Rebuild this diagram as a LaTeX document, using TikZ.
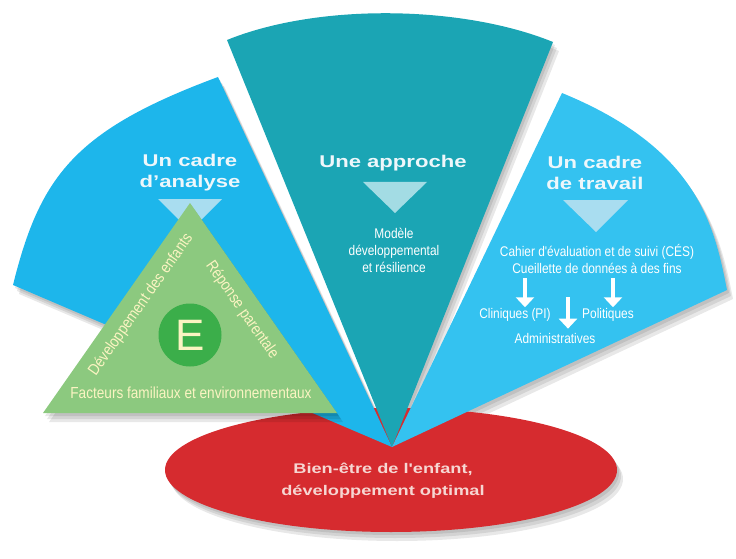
\documentclass[tikz,border=0pt]{standalone}
\usepackage{fontspec}
\setmainfont{Liberation Sans}
\newfontfamily\widefont[FakeStretch=1.3]{Liberation Sans}
\newfontfamily\narrowfont[FakeStretch=0.85]{Liberation Sans}
\usetikzlibrary{arrows.meta}

\definecolor{leftblue}{HTML}{1DB6EB}
\definecolor{rightblue}{HTML}{34C2F0}
\definecolor{tealwedge}{HTML}{1BA5B4}
\definecolor{redbase}{HTML}{D62B2F}
\definecolor{greentri}{HTML}{8CC97F}
\definecolor{egreen}{HTML}{3BAE4A}
\definecolor{paleblue}{HTML}{A9DDF0}
\definecolor{paleteal}{HTML}{A3DCE4}
\definecolor{cream}{HTML}{FBF4C2}
\definecolor{titlewhite}{HTML}{EEF7FB}
\definecolor{pinkwhite}{HTML}{F6D6D2}

% outlines of the three fan pieces, apex at (392,111)
\newcommand{\leftwedge}{(392,111) -- (13,273) .. controls (40,382) and (75,428) .. (218,481) -- cycle}
\newcommand{\midwedge}{(392,111) -- (227,518) .. controls (318,555) and (462,553) .. (553,516) -- cycle}
\newcommand{\rightwedge}{(392,111) -- (562,465) .. controls (696,410) and (714,335) .. (727,268) -- cycle}
\newcommand{\basepath}{(391,88) ellipse (226 and 62)}
\newcommand{\tripath}{(190,355) -- (43,145) -- (337,145) -- cycle}

\begin{document}
\begin{tikzpicture}[x=1pt,y=1pt,
    shadowfill/.style={fill=black,opacity=0.09},
    title/.style={text=titlewhite,font=\widefont\bfseries\fontsize{17}{21}\selectfont,align=center},
    smalltxt/.style={text=white,font=\narrowfont\fontsize{14}{17}\selectfont,align=center,inner sep=1pt},
    tritxt/.style={text=cream,font=\narrowfont\fontsize{16}{19}\selectfont,inner sep=1pt},
    blockarrow/.style={white,line width=4pt,-{Triangle[width=18pt,length=10pt]}}]
    \useasboundingbox (0,0) rectangle (736,558);
    % soft shadows
    \foreach \s in {2,4,6} {
        \fill[shadowfill,shift={(\s,-1.5*\s)}] \basepath;
        \fill[shadowfill,shift={(\s,-1.5*\s)}] \leftwedge;
        \fill[shadowfill,shift={(\s,-1.5*\s)}] \midwedge;
        \fill[shadowfill,shift={(\s,-1.5*\s)}] \rightwedge;
    }
    \fill[redbase] \basepath;
    \fill[leftblue] \leftwedge;
    \fill[tealwedge] \midwedge;
    \fill[rightblue] \rightwedge;
    % pointers under the titles
    \fill[paleblue] (158,359) -- (222,359) -- (190,327) -- cycle;
    \fill[paleteal] (363,376) -- (427,376) -- (395,345) -- cycle;
    \fill[paleblue] (563,358) -- (628,358) -- (596,326) -- cycle;
    % triangle
    \foreach \s in {2,4,6} {
        \fill[shadowfill,shift={(\s,-1.5*\s)}] \tripath;
    }
    \fill[greentri] \tripath;
    \node[circle,fill=egreen,minimum size=63pt,inner sep=0pt,text=cream,
        font=\fontsize{44}{44}\selectfont] (ecircle) at (190,223) {E};
    \node[tritxt,rotate=55] (devel) at (141,253) {Développement des enfants};
    \node[tritxt,rotate=-55] (reponse) at (242,248) {Réponse parentale};
    \node[tritxt] (facteurs) at (191,165) {Facteurs familiaux et environnementaux};
    % titles
    \node[title] (analyse) at (190,385) {Un cadre\\d’analyse};
    \node[title] (approche) at (393,395) {Une approche};
    \node[title] (travail) at (595,385) {Un cadre\\de travail};
    \node[smalltxt] (modele) at (394,308) {Modèle\\développemental\\et résilience};
    % framework side
    \node[smalltxt] (cahier) at (597,306) {Cahier d'évaluation et de suivi (CÉS)};
    \node[smalltxt] (cueil) at (597,290) {Cueillette de données à des fins};
    \node[smalltxt] (clin) at (515,243) {Cliniques (PI)};
    \node[smalltxt] (polit) at (608,243) {Politiques};
    \node[smalltxt] (admin) at (555,220) {Administratives};
    \coordinate (a1) at (525,280);
    \coordinate (a2) at (568,261);
    \coordinate (a3) at (613,280);
    \draw[blockarrow] (a1) -- (a1 |- clin.north);
    \draw[blockarrow,shorten >=3pt] (a2) -- (a2 |- admin.north);
    \draw[blockarrow] (a3) -- (a3 |- polit.north);
    % base
    \node[title,text=pinkwhite,font=\widefont\bfseries\fontsize{14}{22}\selectfont] (bienetre) at (383,77)
        {Bien-être de l'enfant,\\développement optimal};
\end{tikzpicture}
\end{document}
